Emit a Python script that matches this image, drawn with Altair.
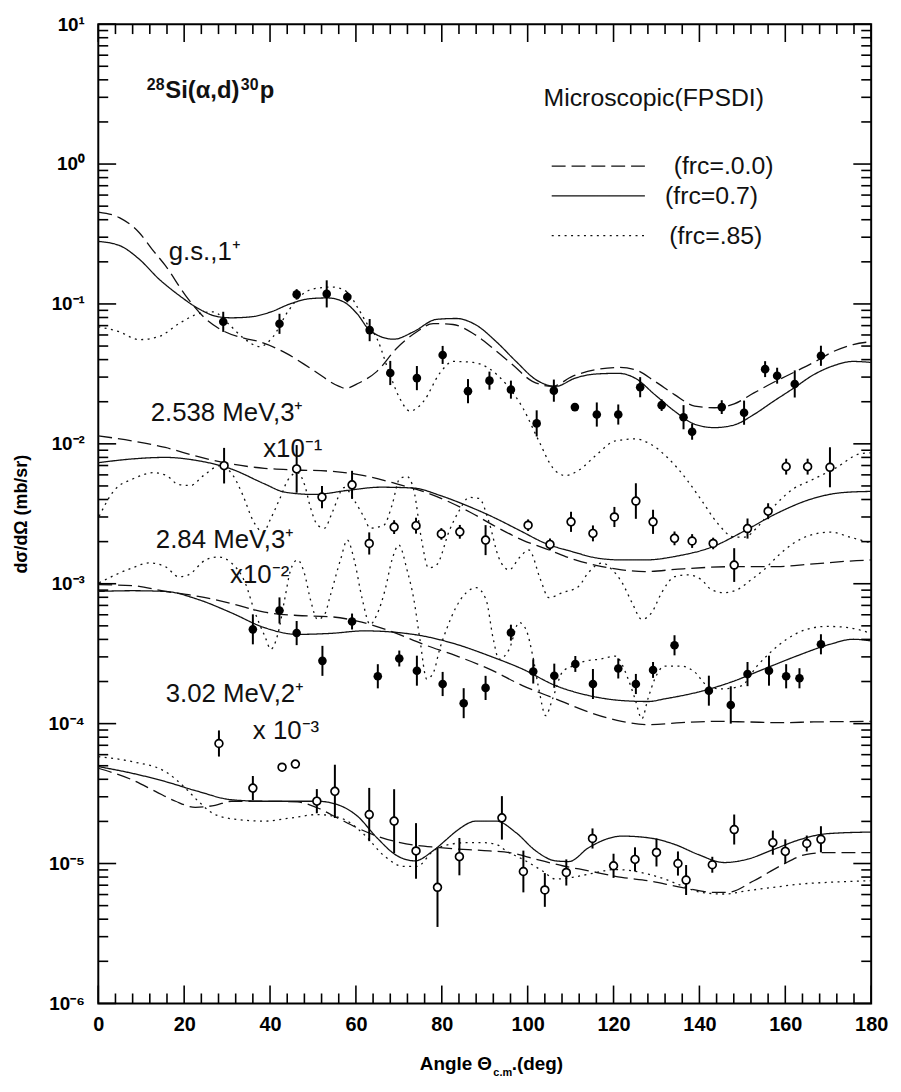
import altair as alt
import pandas as pd

FONT = "Liberation Sans"
W, H = 779, 987
MODELS = ["(frc=.0.0)", "(frc=0.7)", "(frc=.85)"]

# ---------------- theory curves: angle (deg) and log10(dσ/dΩ) as plotted ----------------
gs_dash_ang = [0, 4.9, 9.5, 12.5, 15.6, 20.3, 24.9, 29.5, 34.1, 37.6, 43.7, 49.9, 56.1, 57.5, 60.7, 64.9, 69.5, 74.2, 78.0, 82.6, 87.3, 91.9, 96.5, 101.1, 105.8, 110.4, 115.8, 121.1, 125.0, 129.6, 134.2, 138.9, 143.5, 148.1, 152.7, 157.3, 162.0, 166.6, 171.2, 175.8, 180]
gs_dash_lg = [-0.343, -0.383, -0.489, -0.608, -0.725, -0.938, -1.104, -1.199, -1.246, -1.270, -1.352, -1.470, -1.589, -1.603, -1.565, -1.482, -1.317, -1.199, -1.140, -1.147, -1.211, -1.317, -1.435, -1.553, -1.589, -1.518, -1.470, -1.454, -1.470, -1.553, -1.648, -1.730, -1.742, -1.714, -1.636, -1.56, -1.489, -1.418, -1.34, -1.29, -1.27]
gs_solid_ang = [0, 4.9, 9.5, 14.1, 18.7, 23.3, 28.0, 31.0, 35.6, 40.2, 44.8, 49.4, 53.4, 57.2, 60.3, 63.3, 68.8, 73.4, 78.8, 83.4, 88.0, 92.7, 97.3, 101.9, 106.5, 111.1, 115.8, 121.1, 125.0, 129.6, 134.2, 138.9, 143.5, 148.1, 152.7, 157.3, 162.0, 166.6, 171.2, 175.8, 180]
gs_solid_lg = [-0.553, -0.582, -0.679, -0.821, -0.936, -1.033, -1.092, -1.099, -1.092, -1.057, -0.998, -0.962, -0.957, -0.986, -1.071, -1.191, -1.252, -1.199, -1.110, -1.104, -1.151, -1.270, -1.411, -1.541, -1.589, -1.530, -1.501, -1.496, -1.530, -1.648, -1.766, -1.860, -1.884, -1.865, -1.790, -1.695, -1.601, -1.506, -1.442, -1.411, -1.418]
gs_dot_ang = [0, 4.9, 9.5, 14.1, 18.7, 23.3, 26.8, 30.3, 33.7, 37.7, 40.7, 44.1, 47.6, 51.1, 54.5, 58.0, 60.3, 62.6, 64.9, 67.9, 70.2, 72.6, 75.8, 79.5, 82.7, 87.3, 91.0, 95.0, 98.9, 102.6, 105.8, 108.8, 111.8, 115.8, 120.4, 125.0, 128.5, 132.6, 137.2, 140.5, 144.2, 148.1, 150.4, 153.9, 158.0, 162.0, 165.9, 171.9, 177.4, 180]
gs_dot_lg = [-1.163, -1.199, -1.255, -1.234, -1.142, -1.071, -1.057, -1.142, -1.241, -1.305, -1.234, -1.057, -0.929, -0.887, -0.879, -0.915, -1.021, -1.142, -1.248, -1.504, -1.674, -1.766, -1.695, -1.496, -1.411, -1.418, -1.461, -1.574, -1.745, -1.979, -2.170, -2.227, -2.191, -2.085, -1.979, -1.965, -2.000, -2.099, -2.262, -2.404, -2.567, -2.667, -2.667, -2.582, -2.426, -2.319, -2.262, -2.170, -2.071, -2.064]

e2538_dash_ang = [0, 7.9, 15.6, 23.3, 31.0, 38.7, 46.4, 54.1, 61.9, 69.5, 77.2, 86.5, 92.7, 98.8, 105.0, 111.1, 117.3, 121.9, 127.3, 135.0, 142.7, 150.4, 158.1, 165.8, 176.6, 180]
e2538_dash_lg = [-1.943, -1.979, -2.026, -2.092, -2.144, -2.175, -2.187, -2.196, -2.227, -2.286, -2.357, -2.487, -2.594, -2.688, -2.759, -2.830, -2.877, -2.901, -2.913, -2.896, -2.882, -2.877, -2.877, -2.860, -2.835, -2.830]
e2538_solid_ang = [0, 7.9, 15.6, 23.3, 31.0, 38.7, 43.4, 50.3, 58.0, 65.7, 73.4, 79.6, 85.7, 91.9, 98.0, 104.2, 110.4, 116.5, 121.9, 127.3, 135.0, 142.7, 150.4, 158.1, 165.8, 173.5, 180]
e2538_solid_lg = [-2.135, -2.108, -2.097, -2.121, -2.180, -2.286, -2.345, -2.362, -2.333, -2.310, -2.316, -2.369, -2.440, -2.523, -2.617, -2.712, -2.771, -2.818, -2.830, -2.830, -2.801, -2.74, -2.624, -2.496, -2.397, -2.348, -2.340]
e2538_dot_ang = [0.2, 3.7, 8.3, 12.9, 15.9, 18.7, 21.5, 24.5, 28.4, 31.4, 33.7, 36.0, 38.4, 40.2, 42.3, 44.1, 46.4, 48.1, 49.4, 51.1, 52.7, 54.5, 57.3, 59.6, 61.9, 63.3, 66.5, 68.4, 70.2, 71.9, 73.5, 75.3, 76.9, 78.8, 81.8, 84.1, 86.4, 88.7, 91.0, 93.3, 95.7, 98.0, 100.3, 103.0, 104.9, 108.1, 111.8, 114.1, 117.4, 119.7, 122.0, 124.3, 126.6, 128.9, 131.2, 134.2, 137.2, 140.5, 142.8, 145.8, 148.8, 152.0, 155.0, 158.0, 162.0, 165.9, 170.5, 175.1, 180]
e2538_dot_lg = [-2.518, -2.333, -2.248, -2.206, -2.227, -2.291, -2.298, -2.227, -2.156, -2.227, -2.369, -2.546, -2.631, -2.532, -2.390, -2.262, -2.206, -2.298, -2.454, -2.582, -2.603, -2.489, -2.312, -2.404, -2.525, -2.603, -2.582, -2.440, -2.248, -2.234, -2.333, -2.688, -2.887, -2.865, -2.617, -2.475, -2.383, -2.390, -2.560, -2.816, -2.901, -2.816, -2.759, -2.972, -3.099, -3.064, -3.021, -2.922, -2.851, -2.901, -2.993, -3.135, -3.255, -3.206, -3.064, -2.950, -2.936, -2.972, -3.043, -3.064, -3.043, -2.972, -2.901, -2.809, -2.709, -2.652, -2.631, -2.667, -2.709]

e284_dash_ang = [0, 7.9, 15.6, 23.3, 31.0, 38.7, 46.4, 54.1, 60.3, 68.0, 75.7, 83.4, 91.1, 98.8, 106.5, 114.2, 121.9, 128.1, 135.8, 143.5, 151.2, 158.9, 166.6, 180]
e284_dash_lg = [-3.007, -3.014, -3.055, -3.090, -3.142, -3.203, -3.227, -3.236, -3.267, -3.338, -3.433, -3.516, -3.610, -3.728, -3.823, -3.917, -3.984, -4.007, -3.993, -3.984, -3.988, -3.993, -3.988, -3.984]
e284_solid_ang = [0, 7.9, 15.6, 23.3, 31.0, 38.7, 46.4, 54.1, 61.9, 69.5, 75.7, 83.4, 91.1, 98.8, 106.5, 114.2, 121.9, 128.1, 131.9, 139.6, 147.3, 155.0, 162.7, 170.4, 175.8, 180]
e284_solid_lg = [-3.055, -3.050, -3.055, -3.113, -3.208, -3.314, -3.362, -3.355, -3.337, -3.348, -3.374, -3.433, -3.516, -3.610, -3.728, -3.799, -3.835, -3.842, -3.823, -3.775, -3.704, -3.610, -3.516, -3.433, -3.397, -3.409]
e284_dot_ang = [0.2, 7.9, 11.8, 15.7, 18.7, 21.0, 25.0, 28.0, 31.0, 34.2, 36.5, 38.8, 40.2, 41.8, 43.4, 44.8, 46.4, 48.1, 49.4, 51.1, 52.7, 54.1, 56.4, 58.0, 59.6, 61.5, 63.3, 64.9, 66.8, 68.4, 70.0, 71.9, 73.5, 74.9, 76.5, 78.1, 79.5, 81.1, 83.4, 85.7, 88.0, 90.3, 92.0, 93.3, 95.7, 98.0, 99.6, 101.2, 102.6, 104.2, 105.8, 108.1, 110.4, 113.4, 116.9, 120.4, 123.4, 125.0, 126.6, 128.0, 129.6, 131.9, 135.8, 138.9, 141.9, 145.1, 149.7, 153.4, 156.6, 160.3, 165.0, 169.6, 174.2, 180]
e284_dot_lg = [-2.993, -2.887, -2.851, -2.879, -2.950, -2.936, -2.830, -2.809, -2.851, -2.993, -3.206, -3.376, -3.468, -3.362, -3.113, -2.901, -2.830, -2.936, -3.113, -3.255, -3.220, -3.078, -2.830, -2.688, -2.830, -3.113, -3.291, -3.220, -3.043, -2.830, -2.723, -2.901, -3.113, -3.397, -3.681, -3.631, -3.468, -3.326, -3.163, -3.064, -3.028, -3.113, -3.397, -3.539, -3.468, -3.277, -3.326, -3.518, -3.752, -3.943, -3.823, -3.631, -3.589, -3.553, -3.539, -3.518, -3.681, -3.823, -3.965, -3.823, -3.681, -3.589, -3.589, -3.631, -3.731, -3.752, -3.731, -3.589, -3.489, -3.397, -3.326, -3.305, -3.312, -3.355]

e302_dash_ang = [0, 7.9, 13.3, 18.0, 22.6, 27.2, 31.0, 38.7, 46.4, 51.1, 55.7, 60.3, 64.9, 70.3, 79.6, 91.1, 95.7, 101.9, 108.1, 114.2, 121.9, 128.1, 135.8, 143.5, 146.6, 152.7, 158.9, 165.0, 169.7, 180]
e302_dash_lg = [-4.319, -4.402, -4.484, -4.555, -4.598, -4.584, -4.555, -4.555, -4.560, -4.603, -4.674, -4.745, -4.804, -4.851, -4.887, -4.910, -4.922, -4.969, -5.016, -5.052, -5.099, -5.123, -5.170, -5.206, -5.206, -5.123, -5.016, -4.934, -4.922, -4.922]
e302_solid_ang = [0, 7.9, 15.6, 23.3, 31.0, 38.7, 46.4, 51.1, 55.7, 60.3, 64.9, 69.5, 73.7, 78.0, 81.1, 83.4, 88.0, 92.7, 97.3, 101.9, 106.5, 109.6, 114.2, 118.8, 121.9, 128.1, 134.2, 139.6, 145.8, 151.2, 157.3, 163.5, 169.7, 180]
e302_solid_lg = [-4.307, -4.355, -4.414, -4.485, -4.544, -4.555, -4.555, -4.555, -4.579, -4.660, -4.816, -4.943, -4.981, -4.908, -4.828, -4.768, -4.697, -4.697, -4.780, -4.910, -4.981, -4.986, -4.887, -4.821, -4.804, -4.816, -4.863, -4.934, -4.993, -4.969, -4.899, -4.828, -4.787, -4.775]
e302_dot_ang = [0, 7.9, 15.6, 20.3, 23.3, 27.2, 32.6, 38.7, 44.9, 51.1, 56.4, 61.9, 66.5, 71.1, 74.2, 78.0, 81.9, 85.7, 89.6, 92.7, 95.0, 98.8, 103.4, 106.5, 110.4, 114.2, 120.4, 128.1, 131.9, 135.8, 140.4, 145.8, 151.2, 157.3, 163.5, 169.7, 180]
e302_dot_lg = [-4.236, -4.272, -4.343, -4.461, -4.555, -4.650, -4.686, -4.697, -4.674, -4.650, -4.674, -4.792, -4.943, -5.021, -5.021, -4.910, -4.863, -4.851, -4.851, -4.863, -4.910, -4.969, -5.052, -5.111, -5.099, -5.076, -5.043, -5.076, -5.111, -5.158, -5.206, -5.218, -5.194, -5.170, -5.147, -5.135, -5.123]

# ---------------- measured points: angle, dσ/dΩ (scaled), error factor ----------------
gs_ang = [29.1, 42.2, 46.2, 53.2, 58.0, 63.2, 68.0, 74.2, 80.2, 86.1, 91.1, 96.1, 102.1, 106.1, 111.0, 116.1, 121.1, 126.2, 131.2, 136.3, 138.3, 145.2, 150.4, 155.3, 158.1, 162.2, 168.3]
gs_val = [0.0745, 0.0721, 0.117, 0.118, 0.112, 0.065, 0.0321, 0.0295, 0.0432, 0.0238, 0.0283, 0.0244, 0.0140, 0.0240, 0.0183, 0.0162, 0.0162, 0.0254, 0.0189, 0.0155, 0.0122, 0.0183, 0.0167, 0.0342, 0.0307, 0.0268, 0.0426]
gs_err = [1.18, 1.18, 1.09, 1.25, 1.09, 1.20, 1.22, 1.22, 1.16, 1.22, 1.16, 1.16, 1.24, 1.20, 1.06, 1.22, 1.18, 1.18, 1.10, 1.22, 1.14, 1.12, 1.22, 1.14, 1.14, 1.25, 1.18]

e2538_ang = [29.3, 46.2, 52.1, 59.1, 63.1, 68.9, 74.0, 79.9, 84.2, 90.2, 100.1, 105.2, 110.1, 115.2, 120.2, 125.2, 129.2, 134.2, 138.3, 143.2, 148.1, 151.2, 156.0, 160.2, 165.2, 170.4]
e2538_val = [0.00698, 0.00662, 0.00416, 0.00509, 0.00194, 0.00254, 0.0026, 0.00227, 0.00235, 0.00205, 0.00262, 0.00191, 0.00277, 0.00229, 0.0030, 0.0039, 0.00277, 0.00211, 0.00202, 0.00194, 0.00136, 0.00248, 0.0033, 0.00687, 0.00687, 0.0068]
e2538_err = [1.34, 1.48, 1.20, 1.26, 1.20, 1.12, 1.14, 1.10, 1.12, 1.28, 1.10, 1.10, 1.18, 1.14, 1.18, 1.34, 1.22, 1.12, 1.12, 1.10, 1.32, 1.18, 1.14, 1.14, 1.14, 1.39]

e284_ang = [36.0, 42.2, 46.2, 52.2, 59.1, 65.1, 70.1, 74.2, 80.2, 85.1, 90.2, 96.1, 101.3, 106.2, 111.1, 115.2, 121.1, 125.2, 129.2, 134.2, 142.2, 147.3, 151.2, 156.2, 160.2, 163.3, 168.3]
e284_val = [4.72e-4, 6.44e-4, 4.44e-4, 2.81e-4, 5.37e-4, 2.18e-4, 2.92e-4, 2.39e-4, 1.92e-4, 1.40e-4, 1.80e-4, 4.47e-4, 2.36e-4, 2.20e-4, 2.67e-4, 1.92e-4, 2.48e-4, 1.92e-4, 2.42e-4, 3.63e-4, 1.72e-4, 1.36e-4, 2.26e-4, 2.39e-4, 2.18e-4, 2.11e-4, 3.69e-4]
e284_err = [1.28, 1.24, 1.22, 1.28, 1.14, 1.22, 1.14, 1.28, 1.22, 1.28, 1.22, 1.14, 1.22, 1.22, 1.14, 1.28, 1.18, 1.18, 1.14, 1.18, 1.28, 1.36, 1.22, 1.28, 1.22, 1.18, 1.18]

e302_ang = [28.1, 36.0, 42.8, 45.9, 50.9, 55.1, 63.1, 68.9, 74.0, 79.0, 84.1, 94.0, 99.0, 104.0, 109.0, 115.1, 120.0, 125.0, 130.0, 135.0, 136.9, 143.0, 148.1, 157.1, 160.0, 165.0, 168.3]
e302_val = [7.21e-5, 3.46e-5, 4.88e-5, 5.14e-5, 2.79e-5, 3.28e-5, 2.24e-5, 2.01e-5, 1.23e-5, 6.76e-6, 1.12e-5, 2.12e-5, 8.77e-6, 6.47e-6, 8.63e-6, 1.51e-5, 9.63e-6, 1.07e-5, 1.2e-5, 1.0e-5, 7.62e-6, 9.8e-6, 1.75e-5, 1.41e-5, 1.22e-5, 1.39e-5, 1.49e-5]
e302_err = [1.24, 1.22, 1.0, 1.0, 1.22, 1.55, 1.55, 1.69, 1.58, 1.92, 1.36, 1.43, 1.41, 1.32, 1.24, 1.18, 1.22, 1.22, 1.26, 1.22, 1.28, 1.14, 1.28, 1.22, 1.22, 1.14, 1.24]

# ---------------- in-plot annotations ----------------
ann_text = ["g.s.,1⁺", "2.538 MeV,3⁺", "x10⁻¹", "2.84 MeV,3⁺", "x10⁻²", "3.02 MeV,2⁺", "x 10⁻³"]
ann_ang = [16.4, 12.2, 38.4, 13.4, 30.7, 15.7, 36.0]
ann_val = [0.234, 0.0166, 0.00922, 0.00205, 0.00116, 1.63e-4, 8.9e-5]

# reaction label pieces (big / superscript)
rx_text = ["28", "Si(α,d)", "30", "p"]
rx_ang = [11.3, 15.6, 33.2, 37.6]
rx_val = [3.7, 3.3, 3.7, 3.3]
rx_size = [16, 24, 16, 24]

# model key placement
leg_title = "Microscopic(FPSDI)"
leg_title_ang, leg_title_val = 103.7, 2.94
leg_line_ang = [105.6, 127.3]
leg_val = [0.968, 0.593, 0.308]
leg_lab_ang = [134.0, 132.0, 133.0]

x_major = list(range(0, 181, 20))
x_minor = [v for v in range(0, 181, 4) if v % 20 != 0]
y_major = [10.0 ** e for e in range(-6, 2)]
y_minor = [k * 10.0 ** e for e in range(-6, 1) for k in range(2, 10)]
sup = {1: "10¹", 0: "10⁰", -1: "10⁻¹", -2: "10⁻²", -3: "10⁻³", -4: "10⁻⁴", -5: "10⁻⁵", -6: "10⁻⁶"}

# ---------------- build tables ----------------
rows = []
def add_curve(group, model, ang, lg):
    for a, l in zip(ang, lg):
        rows.append({"angle": a, "value": 10 ** l, "model": model, "series": group + model})

add_curve("gs", MODELS[0], gs_dash_ang, gs_dash_lg)
add_curve("gs", MODELS[1], gs_solid_ang, gs_solid_lg)
add_curve("gs", MODELS[2], gs_dot_ang, gs_dot_lg)
add_curve("2538", MODELS[0], e2538_dash_ang, e2538_dash_lg)
add_curve("2538", MODELS[1], e2538_solid_ang, e2538_solid_lg)
add_curve("2538", MODELS[2], e2538_dot_ang, e2538_dot_lg)
add_curve("284", MODELS[0], e284_dash_ang, e284_dash_lg)
add_curve("284", MODELS[1], e284_solid_ang, e284_solid_lg)
add_curve("284", MODELS[2], e284_dot_ang, e284_dot_lg)
add_curve("302", MODELS[0], e302_dash_ang, e302_dash_lg)
add_curve("302", MODELS[1], e302_solid_ang, e302_solid_lg)
add_curve("302", MODELS[2], e302_dot_ang, e302_dot_lg)
curves = pd.DataFrame(rows)

def pts(ang, val, err):
    return pd.DataFrame({"angle": ang, "value": val,
                         "lo": [v / e for v, e in zip(val, err)],
                         "hi": [v * e for v, e in zip(val, err)]})

filled = pd.concat([pts(gs_ang, gs_val, gs_err), pts(e284_ang, e284_val, e284_err)])
opened = pd.concat([pts(e2538_ang, e2538_val, e2538_err), pts(e302_ang, e302_val, e302_err)])
allpts = pd.concat([filled, opened])
ann = pd.DataFrame({"angle": ann_ang, "value": ann_val, "text": ann_text})
rx = pd.DataFrame({"angle": rx_ang, "value": rx_val, "text": rx_text, "fs": rx_size})
leg_lines = pd.DataFrame({"angle": leg_line_ang * 3,
                          "value": [v for v in leg_val for _ in range(2)],
                          "model": [m for m in MODELS for _ in range(2)]})
leg_labels = pd.DataFrame({"angle": leg_lab_ang, "value": leg_val, "text": MODELS})
leg_head = pd.DataFrame({"angle": [leg_title_ang], "value": [leg_title_val], "text": [leg_title]})
xtitle_df = pd.DataFrame({"angle": [91.7, 92.0, 96.3], "value": [3.69e-7, 3.2e-7, 3.69e-7],
                          "text": ["Angle Θ", "c.m", ".(deg)"]})

xs = alt.Scale(domain=[0, 180], nice=False, zero=False)
ys = alt.Scale(type="log", domain=[1e-6, 10], nice=False)
dash_scale = alt.Scale(domain=MODELS, range=[[14, 6], [1, 0], [2, 4.5]])

label_expr = "".join(f"round(log(datum.value)/LN10) == {e} ? '{s}' : " for e, s in sup.items()) + "''"

# one shared axis definition used by every layer (identical => merged cleanly)
AXX = alt.Axis(orient="bottom", values=x_major, ticks=False, domain=False, grid=False, title=None,
               labelFont=FONT, labelFontSize=20, labelFontWeight="bold", labelColor="black",
               labelPadding=11, labelFlush=False)
AXY = alt.Axis(orient="left", values=y_major, labelExpr=label_expr, ticks=False, domain=False, grid=False,
               title="dσ/dΩ (mb/sr)", titleFont=FONT, titleFontSize=18, titleFontWeight="bold",
               titleColor="black", titlePadding=18,
               labelFont=FONT, labelFontSize=19, labelFontWeight="bold", labelColor="black",
               labelPadding=14, labelFlush=False)

def X(field="angle"):
    return alt.X(f"{field}:Q", scale=xs, axis=AXX, title=None)

def Y(field="value"):
    return alt.Y(f"{field}:Q", scale=ys, axis=AXY, title="dσ/dΩ (mb/sr)")

lines = alt.Chart(curves).mark_line(color="#111", strokeWidth=1.3, interpolate="monotone").encode(
    x=X(), y=Y(),
    strokeDash=alt.StrokeDash("model:N", scale=dash_scale, legend=None),
    detail="series:N",
)

# inward-pointing frame ticks, placed through the scales
xmaj = pd.DataFrame({"angle": x_major}); xmin = pd.DataFrame({"angle": x_minor})
ymaj = pd.DataFrame({"value": y_major}); ymin = pd.DataFrame({"value": y_minor})

def xticks(df, y0, y1):
    return alt.Chart(df).mark_rule(color="black", strokeWidth=1.6).encode(
        x=X(), y=alt.value(y0), y2=alt.value(y1))

def yticks(df, x0, x1):
    return alt.Chart(df).mark_rule(color="black", strokeWidth=1.6).encode(
        y=Y(), x=alt.value(x0), x2=alt.value(x1))

ticks = [
    xticks(xmaj, H, H - 18), xticks(xmin, H, H - 10),
    xticks(xmaj, 0, 18), xticks(xmin, 0, 10),
    yticks(ymaj, 0, 18), yticks(ymin, 0, 10),
    yticks(ymaj, W, W - 18), yticks(ymin, W, W - 10),
]

errbars = alt.Chart(allpts).mark_rule(color="black", strokeWidth=2).encode(
    x=X(), y=Y("lo"), y2="hi:Q")
fpts = alt.Chart(filled).mark_point(shape="circle", filled=True, color="black", size=75, opacity=1).encode(
    x=X(), y=Y())
opts = alt.Chart(opened).mark_point(shape="circle", filled=True, fill="white", stroke="black",
                                    strokeWidth=1.7, size=62, opacity=1).encode(x=X(), y=Y())

texts = alt.Chart(ann).mark_text(font=FONT, fontSize=26, align="left", baseline="middle", color="#111").encode(
    x=X(), y=Y(), text="text:N")

reaction = alt.Chart(rx).mark_text(font=FONT, fontWeight="bold", align="left", baseline="middle",
                                   color="#111").encode(
    x=X(), y=Y(), text="text:N", size=alt.Size("fs:Q", scale=None, legend=None))

key_lines = alt.Chart(leg_lines).mark_line(color="#111", strokeWidth=1.3).encode(
    x=X(), y=Y(), strokeDash=alt.StrokeDash("model:N", scale=dash_scale, legend=None), detail="model:N")
key_labels = alt.Chart(leg_labels).mark_text(font=FONT, fontSize=25, align="left", baseline="middle",
                                             color="#111").encode(x=X(), y=Y(), text="text:N")
key_head = alt.Chart(leg_head).mark_text(font=FONT, fontSize=25, align="left", baseline="middle",
                                         color="#111").encode(x=X(), y=Y(), text="text:N")

xt1 = alt.Chart(xtitle_df.iloc[[0]]).mark_text(font=FONT, fontSize=19, fontWeight="bold", align="right",
                                               baseline="middle", color="black").encode(x=X(), y=Y(), text="text:N")
xt2 = alt.Chart(xtitle_df.iloc[[1]]).mark_text(font=FONT, fontSize=11, fontWeight="bold", align="left",
                                               baseline="middle", color="black").encode(x=X(), y=Y(), text="text:N")
xt3 = alt.Chart(xtitle_df.iloc[[2]]).mark_text(font=FONT, fontSize=19, fontWeight="bold", align="left",
                                               baseline="middle", color="black").encode(x=X(), y=Y(), text="text:N")

chart = alt.layer(lines, *ticks, errbars, fpts, opts, texts, reaction, key_lines, key_labels, key_head,
                  xt1, xt2, xt3).properties(
    width=W, height=H, autosize=alt.AutoSizeParams(type="none"),
    padding={"left": 91, "top": 12, "right": 22, "bottom": 84},
    background="white",
).configure_view(stroke="black", strokeWidth=2)

chart.save("out.html", embed_options={"renderer": "svg", "actions": False})
